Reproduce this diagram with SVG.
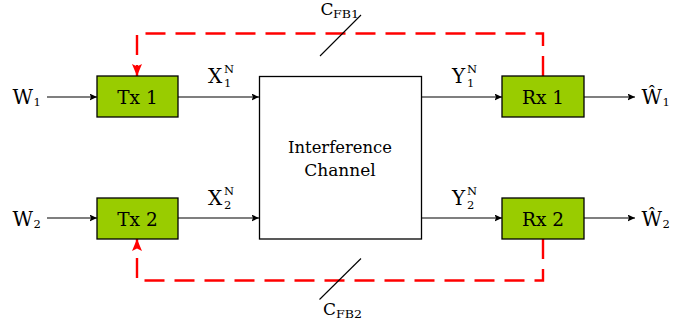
<svg xmlns="http://www.w3.org/2000/svg" width="696" height="326" viewBox="0 0 696 326">
<style>
.lbl{font-family:"DejaVu Serif",serif;font-size:17px;fill:#000}
.bx{font-family:"DejaVu Serif",serif;font-size:18.5px;fill:#000}
.big{font-family:"DejaVu Serif",serif;font-size:20px;fill:#000}
.cap{font-family:"DejaVu Serif",serif;font-size:17px;fill:#000}
.sub{font-size:11.5px}
.box{fill:#99cc00;stroke:#000;stroke-width:1.3}
.ch{fill:#fff;stroke:#000;stroke-width:1.3}
.ln{stroke:#000;stroke-width:1.2;fill:none}
.fb{stroke:#ff0000;stroke-width:2.4;fill:none;stroke-dasharray:20 10}
.sl{stroke:#000;stroke-width:1.1}
</style>
<defs>
<marker id="ab" markerUnits="userSpaceOnUse" markerWidth="8" markerHeight="8" refX="7.5" refY="3.5" orient="auto"><path d="M0,0 L7.5,3.5 L0,7 L1.5,3.5 z" fill="#000"/></marker>
<marker id="ar" markerUnits="userSpaceOnUse" markerWidth="13" markerHeight="11" refX="12" refY="5" orient="auto"><path d="M0,0 L12,5 L0,10 L2.5,5 z" fill="#ff0000"/></marker>
</defs>
<rect width="696" height="326" fill="#fff"/>
<g id="connectors">
<line class="ln" x1="47" y1="97" x2="97" y2="97" marker-end="url(#ab)"/>
<line class="ln" x1="178" y1="97" x2="259" y2="97" marker-end="url(#ab)"/>
<line class="ln" x1="421" y1="97" x2="502" y2="97" marker-end="url(#ab)"/>
<line class="ln" x1="584" y1="97" x2="635" y2="97" marker-end="url(#ab)"/>
<line class="ln" x1="47" y1="218" x2="97" y2="218" marker-end="url(#ab)"/>
<line class="ln" x1="178" y1="218" x2="259" y2="218" marker-end="url(#ab)"/>
<line class="ln" x1="421" y1="218" x2="502" y2="218" marker-end="url(#ab)"/>
<line class="ln" x1="584" y1="218" x2="635" y2="218" marker-end="url(#ab)"/>
<path class="fb" d="M543,76 V33.5 H137 V76" marker-end="url(#ar)"/>
<path class="fb" d="M543,239 V280.5 H137 V239" marker-end="url(#ar)"/>
<line class="sl" x1="320" y1="56" x2="361" y2="15"/>
<line class="sl" x1="319.5" y1="299.5" x2="361" y2="258.5"/>
</g>
<g id="W1"><text class="big" x="12.5" y="104">W<tspan class="sub" x="33.5" y="106">1</tspan></text></g>
<g id="W2"><text class="big" x="12.5" y="226">W<tspan class="sub" x="33.5" y="228">2</tspan></text></g>
<g id="Tx1"><rect class="box" x="97" y="76" width="81" height="41"/><text class="bx" x="137.5" y="103.5" text-anchor="middle">Tx 1</text></g>
<g id="Tx2"><rect class="box" x="97" y="198" width="81" height="41"/><text class="bx" x="137.5" y="225.5" text-anchor="middle">Tx 2</text></g>
<g id="channel"><rect class="ch" x="259.5" y="76.5" width="162" height="162.5"/><text class="lbl" x="288" y="153" textLength="104" lengthAdjust="spacingAndGlyphs">Interference</text><text class="lbl" x="340" y="176" text-anchor="middle">Channel</text></g>
<g id="Rx1"><rect class="box" x="502" y="76" width="82" height="41"/><text class="bx" x="543" y="103.5" text-anchor="middle">Rx 1</text></g>
<g id="Rx2"><rect class="box" x="502" y="198" width="82" height="41"/><text class="bx" x="543" y="225.5" text-anchor="middle">Rx 2</text></g>
<g id="X1"><text class="big" x="208" y="83">X<tspan class="sub" x="224" y="87">1</tspan><tspan class="sub" x="224" y="73">N</tspan></text></g>
<g id="X2"><text class="big" x="208" y="205">X<tspan class="sub" x="224" y="209">2</tspan><tspan class="sub" x="224" y="195">N</tspan></text></g>
<g id="Y1"><text class="big" x="452" y="83">Y<tspan class="sub" x="467" y="87">1</tspan><tspan class="sub" x="467" y="73">N</tspan></text></g>
<g id="Y2"><text class="big" x="452" y="205">Y<tspan class="sub" x="467" y="209">2</tspan><tspan class="sub" x="467" y="195">N</tspan></text></g>
<g id="What1"><text class="big" x="641.5" y="104">Ŵ<tspan class="sub" x="662.5" y="106">1</tspan></text></g>
<g id="What2"><text class="big" x="641.5" y="226">Ŵ<tspan class="sub" x="662.5" y="228">2</tspan></text></g>
<g id="CFB1"><text class="cap" x="320.5" y="15">C<tspan x="333" y="17.5" font-size="11" textLength="26" lengthAdjust="spacingAndGlyphs">FB1</tspan></text></g>
<g id="CFB2"><text class="cap" x="323" y="315">C<tspan x="336" y="317.5" font-size="11" textLength="26" lengthAdjust="spacingAndGlyphs">FB2</tspan></text></g>
</svg>
